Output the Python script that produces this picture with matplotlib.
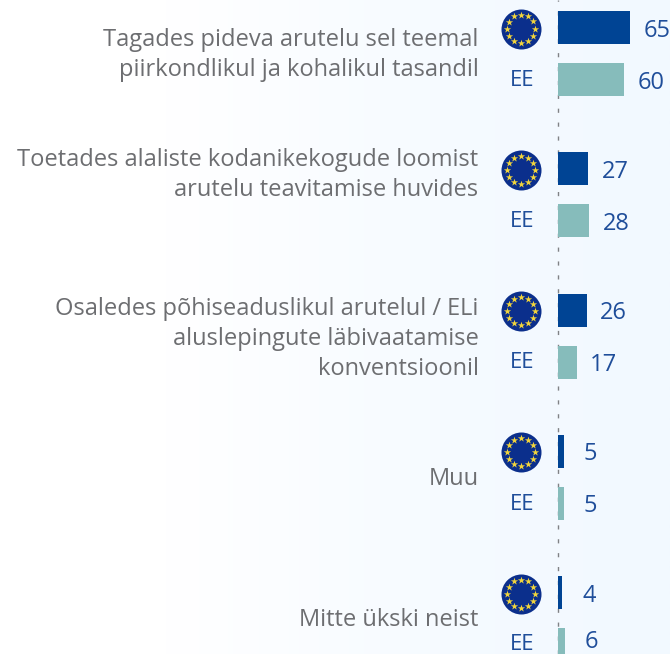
import numpy as np
import matplotlib.pyplot as plt

plt.rcParams['font.family'] = ['Open Sans', 'DejaVu Sans']

labels = ["Tagades pideva arutelu sel teemal\npiirkondlikul ja kohalikul tasandil",
          "Toetades alaliste kodanikekogude loomist\narutelu teavitamise huvides",
          "Osaledes põhiseaduslikul arutelul / ELi\naluslepingute läbivaatamise\nkonventsioonil",
          "Muu",
          "Mitte ükski neist"]
eu = [65, 27, 26, 5, 4]
ee = [60, 28, 17, 5, 6]

# layout in pixels
W, H = 670, 654
x0 = 558
px = 72 / 65
gap = 141.25
label_y = [55, 175, 339, 479, 620]
text_bottom = 642  # last row runs off the picture, keep its text inside

fig = plt.figure(figsize=(W / 100, H / 100), dpi=100)
ax = fig.add_axes([0, 0, 1, 1])
xlim = (-x0 / px, (W - x0) / px)

# background fades from white to a pale blue
ramp = np.interp(np.linspace(0, 1, 256), [0, 0.25, 0.75, 1], [0, 0, 0.85, 1])
rgb = np.ones((1, 256, 3))
rgb[0, :, 0] = 1 - ramp * (1 - 0xf2 / 255)
rgb[0, :, 1] = 1 - ramp * (1 - 0xf9 / 255)
ax.imshow(rgb, extent=[xlim[0], xlim[1], H, 0], aspect='auto', zorder=0)

ax.axvline(0.3, color='#808285', lw=1.0, ls=(0, (3, 7)), zorder=1)

y_eu = 27.5 + gap * np.arange(5)
y_ee = 79.5 + gap * np.arange(5)
ax.barh(y_eu, eu, height=33, color='#004494', zorder=2)
ax.barh(y_ee, ee, height=33, color='#86bcbb', zorder=2)

blue = '#1f4e9a'
for y, v in list(zip(y_eu, eu)) + list(zip(y_ee, ee)):
    ax.annotate(str(v), (v, min(y + 3.2, text_bottom)), xytext=(27 * 0.72, 0), textcoords='offset points',
                ha='center', va='center', fontsize=17, color=blue, zorder=4)

# EU flags and EE tags
fx = -37 / px
ax.scatter([fx] * 5, y_eu + 1, s=(40 * 0.72) ** 2, color='#0b2f8c', lw=0, zorder=3)
ang = np.arange(12) * np.pi / 6
for y in y_eu + 1:
    ax.scatter(fx + 14 * np.cos(ang) / px, y + 14 * np.sin(ang), marker='*', s=30,
               color='#f2d53c', lw=0, zorder=4)
for y in y_ee:
    ax.text(fx + 1 / px, min(y + 1, 644), "EE", ha='center', va='center', fontsize=16, color=blue, zorder=4)

for lab, y in zip(labels, label_y):
    ax.text(-79.5 / px, y, lab, ha='right', va='center', fontsize=17, color='#6d6e71',
            linespacing=1.36, zorder=4)

ax.set_xlim(xlim)
ax.set_ylim(H, 0)
ax.axis('off')
fig.savefig('out.png', dpi=100)
